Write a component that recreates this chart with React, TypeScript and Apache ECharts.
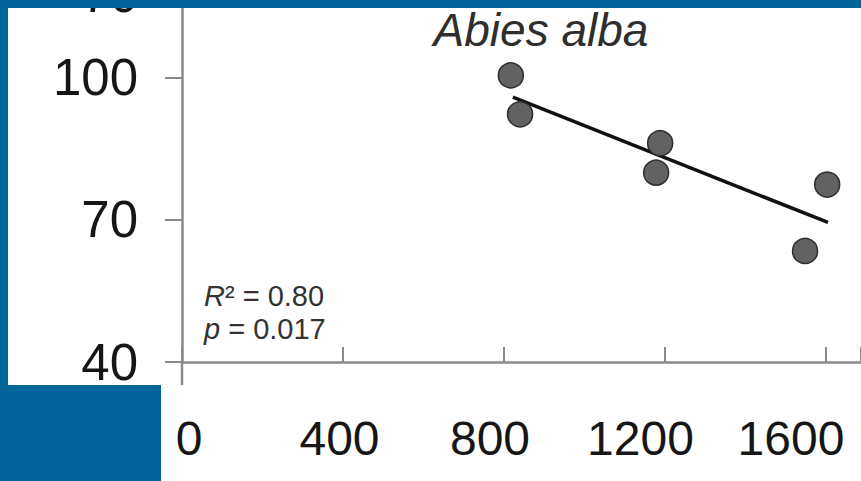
import React, { useEffect, useRef } from "react";
import * as echarts from "echarts";

// ---- data ----
const altitude = [817, 840, 1178, 1188, 1548, 1603];
const growth = [100.4, 92.2, 79.9, 86.1, 63.4, 77.4];
const fitAltitude = [822, 1605];
const fitGrowth = [95.8, 69.4];
const stripTickLabels = ["0", "400", "800", "1200", "1600"];
const titleText = "Abies alba";
const r2Text = "0.80";
const pText = "0.017";

const FONT = "Liberation Sans, Arial, Helvetica, sans-serif";
const BLUE = "#03669b";

export default function App() {
  const ref = useRef<HTMLDivElement>(null);
  useEffect(() => {
    if (!ref.current) return;
    const chart = echarts.init(ref.current, null, { renderer: "svg" });
    const points = altitude.map((a, i) => [a, growth[i]]);
    const fit = fitAltitude.map((a, i) => [a, fitGrowth[i]]);
    chart.setOption({
      animation: false,
      backgroundColor: BLUE,
      textStyle: { fontFamily: FONT },
      grid: [
        { left: 182, top: 8, width: 679, height: 354, containLabel: false },
        { left: 189, top: 438, width: 602, height: 1, containLabel: false },
      ],
      xAxis: [
        {
          type: "value",
          gridIndex: 0,
          min: 0,
          max: 1687,
          interval: 400,
          splitLine: { show: false },
          axisLine: { show: true, lineStyle: { color: "#8a8a8a", width: 2.5 } },
          axisTick: { show: true, inside: true, length: 15, lineStyle: { color: "#8a8a8a", width: 2 } },
          axisLabel: { show: false },
        },
        {
          type: "category",
          gridIndex: 1,
          data: stripTickLabels,
          boundaryGap: false,
          position: "top",
          axisLine: { show: false },
          axisTick: { show: false },
          axisLabel: {
            margin: 0,
            verticalAlign: "middle",
            fontSize: 48,
            color: "#161616",
            fontFamily: FONT,
          },
        },
      ],
      yAxis: [
        {
          type: "value",
          gridIndex: 0,
          min: 40,
          max: 114.6,
          interval: 30,
          splitLine: { show: false },
          axisLine: { show: true, lineStyle: { color: "#8a8a8a", width: 2.5 } },
          axisTick: { show: true, length: 17, lineStyle: { color: "#8a8a8a", width: 2 } },
          axisLabel: {
            margin: 44,
            fontSize: 51,
            color: "#161616",
            fontFamily: FONT,
            showMaxLabel: false,
          },
        },
        { type: "value", gridIndex: 1, show: false, min: 0, max: 1 },
      ],
      series: [
        {
          type: "line",
          xAxisIndex: 0,
          yAxisIndex: 0,
          data: fit,
          symbol: "none",
          lineStyle: { color: "#111111", width: 3.5 },
          z: 3,
        },
        {
          type: "scatter",
          xAxisIndex: 0,
          yAxisIndex: 0,
          data: points,
          symbolSize: 25,
          itemStyle: { color: "#626262", borderColor: "#2e2e2e", borderWidth: 1.5, opacity: 1 },
          z: 4,
        },
      ],
      graphic: [
        { type: "rect", z: -10, shape: { x: 8, y: 8, width: 853, height: 377 }, style: { fill: "#ffffff" } },
        { type: "rect", z: -10, shape: { x: 161, y: 385, width: 700, height: 96 }, style: { fill: "#ffffff" } },
        { type: "line", z: 1, shape: { x1: 182, y1: 362, x2: 182, y2: 385 }, style: { stroke: "#8a8a8a", lineWidth: 2.5 } },
        {
          type: "text",
          z: 50,
          x: 138,
          y: -6,
          style: { text: "70", align: "right", verticalAlign: "middle", fontSize: 51, fill: "#161616", fontFamily: FONT },
        },
        { type: "rect", z: 100, shape: { x: 0, y: 0, width: 861, height: 8 }, style: { fill: BLUE } },
        {
          type: "text",
          z: 50,
          x: 541,
          y: 30,
          style: {
            text: titleText,
            align: "center",
            verticalAlign: "middle",
            fontSize: 46,
            fontStyle: "italic",
            fill: "#2e2e2e",
            fontFamily: FONT,
          },
        },
        {
          type: "text",
          z: 50,
          x: 204,
          y: 296,
          style: {
            text: "{i|R}² = " + r2Text,
            align: "left",
            verticalAlign: "middle",
            fontSize: 29,
            fill: "#333333",
            fontFamily: FONT,
            rich: { i: { fontStyle: "italic", fontSize: 29, fill: "#333333", fontFamily: FONT } },
          },
        },
        {
          type: "text",
          z: 50,
          x: 204,
          y: 329,
          style: {
            text: "{i|p} = " + pText,
            align: "left",
            verticalAlign: "middle",
            fontSize: 29,
            fill: "#333333",
            fontFamily: FONT,
            rich: { i: { fontStyle: "italic", fontSize: 29, fill: "#333333", fontFamily: FONT } },
          },
        },
      ],
    });
    return () => chart.dispose();
  }, []);
  return (
    <div
      ref={ref}
      style={{ position: "absolute", left: 0, top: 0, width: 861, height: 481 }}
    />
  );
}
